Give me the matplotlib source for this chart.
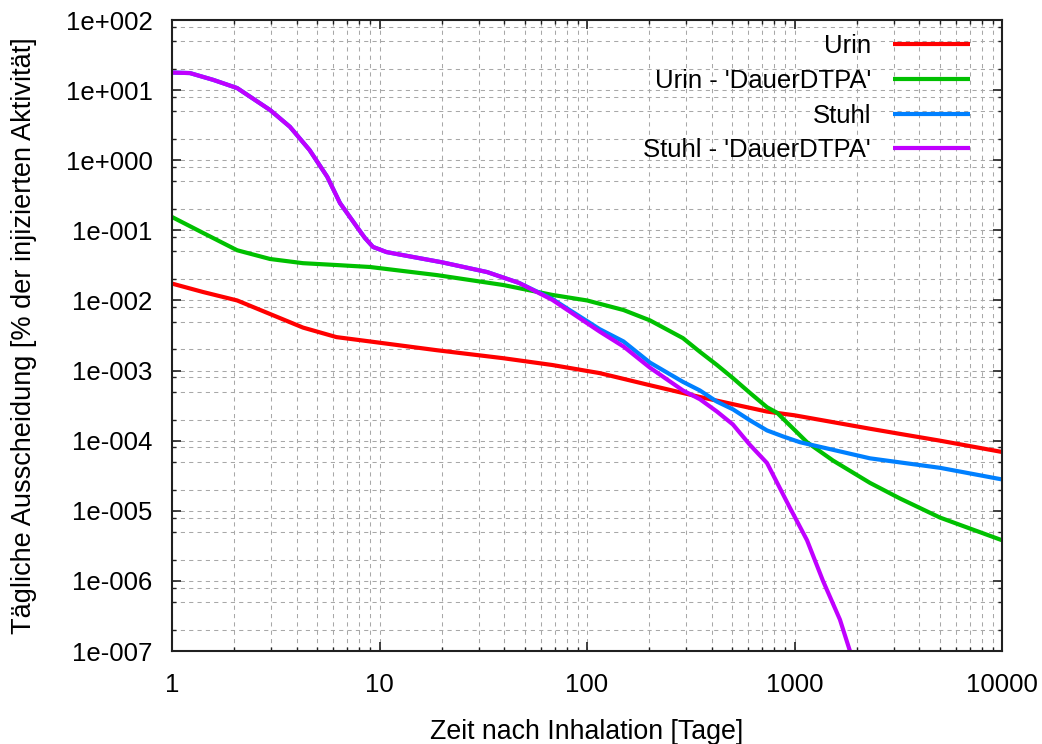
import math
import matplotlib
matplotlib.use("Agg")
import matplotlib.pyplot as plt
from matplotlib.ticker import LogLocator, FuncFormatter, NullFormatter

plt.rcParams['font.family'] = ['Liberation Sans', 'DejaVu Sans']
plt.rcParams['font.size'] = 18.5

# Urin
urin_x = [1, 1.41, 2.06, 2.97, 4.28, 6.2, 9, 18.9, 39.5, 68, 115, 200, 350, 737, 1000,
          2310, 3220, 5025, 10000]
urin_y = [1.74e-2, 1.32e-2, 1.0e-2, 6.4e-3, 4.1e-3, 3.0e-3, 2.6e-3, 1.95e-3, 1.5e-3, 1.2e-3,
          9.2e-4, 6.2e-4, 4.2e-4, 2.6e-4, 2.3e-4, 1.48e-4, 1.25e-4, 1.0e-4, 6.9e-5]

# Urin - 'DauerDTPA'
urin_dtpa_x = [1, 1.41, 2.06, 2.97, 4.28, 6.2, 9, 18.9, 39.5, 68, 100, 150, 201, 290, 350,
               423, 505, 610, 737, 824, 1149, 1534, 2310, 3220, 5025, 10000]
urin_dtpa_y = [0.155, 0.092, 0.052, 0.039, 0.034, 0.032, 0.030, 0.023, 0.0166, 0.012, 0.0100,
               7.3e-3, 5.2e-3, 2.9e-3, 1.85e-3, 1.2e-3, 7.8e-4, 4.8e-4, 3.0e-4, 2.5e-4, 9.5e-5,
               5.2e-5, 2.5e-5, 1.5e-5, 8.0e-6, 3.8e-6]

# Stuhl
stuhl_x = [1, 1.22, 1.58, 2.06, 2.97, 3.7, 4.6, 5.6, 6.45, 7.8, 8.5, 9.3, 10.8, 12.1, 20, 33,
           47, 68, 115, 150, 201, 290, 350, 423, 505, 610, 737, 880, 1063, 1534, 2310, 3220,
           5025, 10000]
stuhl_y = [17.8, 17.5, 14, 10.7, 5.2, 3.0, 1.4, 0.58, 0.245, 0.111, 0.078, 0.058, 0.049, 0.046,
           0.035, 0.0254, 0.0178, 0.0105, 3.9e-3, 2.6e-3, 1.3e-3, 6.9e-4, 5.2e-4, 3.6e-4, 2.8e-4,
           1.95e-4, 1.4e-4, 1.15e-4, 9.5e-5, 7.4e-5, 5.6e-5, 4.9e-5, 4.1e-5, 2.8e-5]

# Stuhl - 'DauerDTPA'
stuhl_dtpa_x = [1, 1.22, 1.58, 2.06, 2.97, 3.7, 4.6, 5.6, 6.45, 7.8, 8.5, 9.3, 10.8, 12.1, 20,
                33, 47, 68, 115, 150, 201, 290, 350, 423, 505, 610, 737, 951, 1149, 1372, 1656,
                1850, 2000]
stuhl_dtpa_y = [17.8, 17.5, 14, 10.7, 5.2, 3.0, 1.4, 0.58, 0.245, 0.111, 0.078, 0.058, 0.049,
                0.046, 0.035, 0.0254, 0.0178, 0.0102, 3.6e-3, 2.2e-3, 1.1e-3, 5.2e-4, 3.9e-4,
                2.6e-4, 1.7e-4, 8.7e-5, 4.8e-5, 1.1e-5, 3.8e-6, 1.0e-6, 2.8e-7, 1.0e-7, 5e-8]

labels = ["Urin", "Urin - 'DauerDTPA'", "Stuhl", "Stuhl - 'DauerDTPA'"]
colors = ["#ff0000", "#00c000", "#0080ff", "#c000ff"]

fig = plt.figure(figsize=(10.42, 7.44), dpi=100)
ax = fig.add_axes([172 / 1042, 1 - 651 / 744, 830 / 1042, 631 / 744])

series = [(urin_x, urin_y), (urin_dtpa_x, urin_dtpa_y), (stuhl_x, stuhl_y),
          (stuhl_dtpa_x, stuhl_dtpa_y)]
for (xs, ys), lab, col in zip(series, labels, colors):
    ax.plot(xs, ys, color=col, lw=3, label=lab, solid_capstyle='butt', solid_joinstyle='round')

ax.set_xscale('log')
ax.set_yscale('log')
ax.set_xlim(1, 10000)
ax.set_ylim(1e-7, 1e2)

ax.xaxis.set_major_locator(LogLocator(base=10, numticks=10))
ax.xaxis.set_minor_locator(LogLocator(base=10, subs=range(2, 10), numticks=50))
ax.yaxis.set_major_locator(LogLocator(base=10, numticks=20))
ax.yaxis.set_minor_locator(LogLocator(base=10, subs=[2, 5, 8], numticks=50))

ax.xaxis.set_major_formatter(FuncFormatter(lambda v, p: "%d" % round(v)))
ax.xaxis.set_minor_formatter(NullFormatter())


def sci(v, p):
    e = int(round(math.log10(v)))
    return "1e" + format(e, '+04d')


ax.yaxis.set_major_formatter(FuncFormatter(sci))
ax.yaxis.set_minor_formatter(NullFormatter())

ax.grid(True, which='both', color='#a8a8a8', lw=0.75, linestyle=(0, (4, 4)))
ax.set_axisbelow(True)

ax.tick_params(which='both', direction='in', top=True, right=True, color='#202020')
ax.tick_params(which='major', length=6.5, width=1.2)
ax.tick_params(which='minor', length=3, width=1.0)
ax.tick_params(axis='y', pad=14)
ax.tick_params(axis='x', pad=16)
for s in ax.spines.values():
    s.set_linewidth(1.5)
    s.set_color('#202020')

ax.set_xlabel("Zeit nach Inhalation [Tage]", fontsize=19.3, labelpad=16)
ax.set_ylabel("Tägliche Ausscheidung [% der injizierten Aktivität]", fontsize=19.5,
              labelpad=21)

leg = ax.legend(loc='upper right', frameon=False, markerfirst=False,
                handlelength=3.0, labelspacing=0.42, handletextpad=0.85,
                bbox_to_anchor=(970 / 1042, 1 - 34 / 744), bbox_transform=fig.transFigure,
                borderaxespad=0, borderpad=0)

fig.savefig("out.png", dpi=100)
